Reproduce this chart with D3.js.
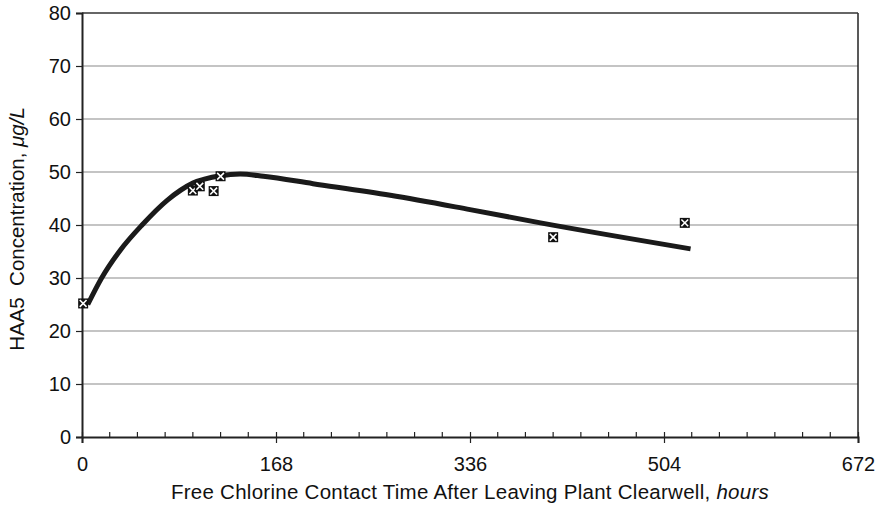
<!DOCTYPE html>
<html lang="en">
<head>
  <meta charset="UTF-8" />
  <title>HAA5 Concentration vs Contact Time</title>
  <style>
    body {
      margin: 0;
      background: white;
      font-family: 'Liberation Sans', Arial, Helvetica, sans-serif;
    }
    svg text {
      fill: #111;
    }
  </style>
</head>
<body>
  <svg width="883" height="507"></svg>

  <script src="https://d3js.org/d3.v7.min.js"></script>
  <script>
    // measured points (hours, ug/L)
    const obsHours = [1, 96, 102, 114, 120, 408, 522];
    const obsHaa5 = [25.2, 46.5, 47.3, 46.4, 49.2, 37.7, 40.4];

    // fitted model curve
    const fitHours = [5, 17, 33, 52, 74, 96, 120, 137, 157, 200, 267, 336, 397, 527];
    const fitHaa5 = [25.0, 30.0, 35.2, 40.0, 44.7, 47.9, 49.3, 49.6, 49.2, 47.8, 45.6, 42.9, 40.4, 35.5];

    const xTicks = [0, 168, 336, 504, 672];
    const yTicks = [0, 10, 20, 30, 40, 50, 60, 70, 80];

    const margin = { left: 82, right: 25, top: 13, bottom: 70 };
    const width = 883, height = 507;
    const font = "'Liberation Sans', Arial, sans-serif";

    const svg = d3.select("svg");

    const x = d3.scaleLinear()
      .domain([0, 672])
      .range([margin.left, width - margin.right]);
    const y = d3.scaleLinear()
      .domain([0, 80])
      .range([height - margin.bottom, margin.top]);

    // gridlines
    svg.append("g")
      .selectAll("line")
      .data(yTicks.filter(d => d > 0 && d < 80))
      .join("line")
        .attr("x1", x(0))
        .attr("x2", x(672))
        .attr("y1", d => y(d))
        .attr("y2", d => y(d))
        .attr("stroke", "#8a8a8a")
        .attr("stroke-width", 1.2);

    // top and right border
    svg.append("line")
      .attr("x1", x(672)).attr("x2", x(672))
      .attr("y1", y(0)).attr("y2", y(80))
      .attr("stroke", "#222")
      .attr("stroke-width", 1.5);
    svg.append("line")
      .attr("x1", x(0)).attr("x2", x(672))
      .attr("y1", y(80)).attr("y2", y(80))
      .attr("stroke", "#333")
      .attr("stroke-width", 1.4);

    // y axis
    const yAxis = svg.append("g")
      .attr("transform", `translate(${x(0)},0)`)
      .call(d3.axisLeft(y).tickValues(yTicks).tickSize(6).tickPadding(5));
    yAxis.select(".domain").attr("stroke", "#222").attr("stroke-width", 2);
    yAxis.selectAll(".tick line").attr("stroke", "#222").attr("stroke-width", 1.2);
    yAxis.selectAll("text")
      .style("font-family", font)
      .style("font-size", "20px")
      .attr("fill", "#111");

    // x axis: minor ticks every 24 h inside, major ticks crossing
    const minor = d3.range(0, 673, 24).filter(d => d % 168 !== 0);
    svg.append("g")
      .selectAll("line")
      .data(minor)
      .join("line")
        .attr("x1", d => x(d)).attr("x2", d => x(d))
        .attr("y1", y(0)).attr("y2", y(0) - 5)
        .attr("stroke", "#222")
        .attr("stroke-width", 1.2);

    const xAxis = svg.append("g")
      .attr("transform", `translate(0,${y(0)})`)
      .call(d3.axisBottom(x).tickValues(xTicks).tickSize(6).tickPadding(13.5));
    xAxis.select(".domain").attr("stroke", "#222").attr("stroke-width", 2);
    xAxis.selectAll(".tick line")
      .attr("y1", -5)
      .attr("stroke", "#222")
      .attr("stroke-width", 1.2);
    xAxis.selectAll("text")
      .style("font-family", font)
      .style("font-size", "20px")
      .attr("fill", "#111");

    // fitted curve
    const fit = fitHours.map((h, i) => [h, fitHaa5[i]]);
    svg.append("path")
      .datum(fit)
      .attr("fill", "none")
      .attr("stroke", "#1a1a1a")
      .attr("stroke-width", 5)
      .attr("stroke-linecap", "butt")
      .attr("d", d3.line()
        .x(d => x(d[0]))
        .y(d => y(d[1]))
        .curve(d3.curveMonotoneX));

    // observed markers: black square with white X
    const obs = obsHours.map((h, i) => [h, obsHaa5[i]]);
    const s = 5;
    const mk = svg.append("g")
      .selectAll("g")
      .data(obs)
      .join("g")
        .attr("transform", d => `translate(${x(d[0])},${y(d[1])})`);
    mk.append("rect")
      .attr("x", -s).attr("y", -s)
      .attr("width", 2 * s).attr("height", 2 * s)
      .attr("fill", "#111");
    mk.append("path")
      .attr("d", `M${-s + 1.6},${-s + 1.6}L${s - 1.6},${s - 1.6}M${s - 1.6},${-s + 1.6}L${-s + 1.6},${s - 1.6}`)
      .attr("stroke", "white")
      .attr("stroke-width", 1.6);

    // axis titles
    const xt = svg.append("text")
      .attr("x", (x(0) + x(672)) / 2)
      .attr("y", 499)
      .attr("text-anchor", "middle")
      .style("font-family", font)
      .style("font-size", "20.5px")
      .style("letter-spacing", "0.27px");
    xt.append("tspan").text("Free Chlorine Contact Time After Leaving Plant Clearwell, ");
    xt.append("tspan").style("font-style", "italic").text("hours");

    const yt = svg.append("text")
      .attr("transform", `translate(24,229) rotate(-90)`)
      .attr("text-anchor", "middle")
      .style("font-family", font)
      .style("font-size", "20.5px");
    yt.append("tspan").text("HAA5\u00a0 Concentration, ");
    yt.append("tspan").style("font-style", "italic").text("\u03bcg/L");
  </script>
</body>
</html>
